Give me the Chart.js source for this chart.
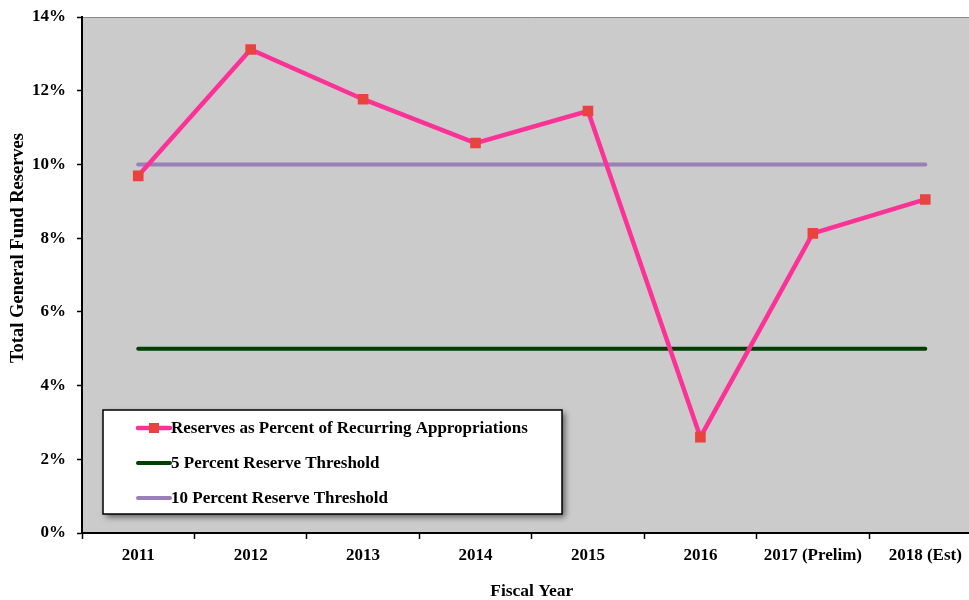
<!DOCTYPE html>
<html>
<head>
<meta charset="utf-8">
<script src="https://cdn.jsdelivr.net/npm/chart.js@4/dist/chart.umd.min.js"></script>
<style>
  html, body { margin: 0; padding: 0; background: #fff; overflow: hidden; }
  #wrap { width: 989px; height: 600px; }
</style>
</head>
<body>
<div id="wrap"><canvas id="chart" width="989" height="600"></canvas></div>
<script>
// data
const fiscalYears = ["2011", "2012", "2013", "2014", "2015", "2016", "2017 (Prelim)", "2018 (Est)"];
const reservesPct = [9.69, 13.12, 11.77, 10.58, 11.45, 2.60, 8.13, 9.05];
const fivePctThreshold = [5, 5, 5, 5, 5, 5, 5, 5];
const tenPctThreshold = [10, 10, 10, 10, 10, 10, 10, 10];
const yTickValues = [0, 2, 4, 6, 8, 10, 12, 14];

const serif = "'Liberation Serif', 'Times New Roman', serif";

// gray plot background + top border
const plotBackground = {
  id: "plotBackground",
  beforeDraw(chart) {
    const { ctx, chartArea: a } = chart;
    ctx.save();
    ctx.fillStyle = "#cbcbcb";
    ctx.fillRect(a.left, a.top, a.right - a.left, a.bottom - a.top);
    ctx.strokeStyle = "#8a8a8a";
    ctx.lineWidth = 1;
    ctx.beginPath();
    ctx.moveTo(a.left, a.top + 0.5);
    ctx.lineTo(a.right, a.top + 0.5);
    ctx.stroke();
    ctx.restore();
  },
};

// y axis title sits a bit above the middle in the reference
const yTitle = {
  id: "yTitle",
  afterDraw(chart) {
    const { ctx } = chart;
    ctx.save();
    ctx.translate(18, 248);
    ctx.rotate(-Math.PI / 2);
    ctx.font = "bold 18.5px " + serif;
    ctx.fillStyle = "#000";
    ctx.textAlign = "center";
    ctx.textBaseline = "middle";
    ctx.fillText("Total General Fund Reserves", 0, 0);
    ctx.restore();
  },
};

// boxed legend inside the plot, bottom left
const boxLegend = {
  id: "boxLegend",
  afterDraw(chart) {
    const { ctx, chartArea: a } = chart;
    const x = a.left + 21, y = a.bottom - 123, w = 459, h = 104;
    ctx.save();
    ctx.shadowColor = "rgba(0,0,0,0.55)";
    ctx.shadowBlur = 6;
    ctx.shadowOffsetX = 3;
    ctx.shadowOffsetY = 3;
    ctx.fillStyle = "#fff";
    ctx.fillRect(x, y, w, h);
    ctx.shadowColor = "transparent";
    ctx.strokeStyle = "#000";
    ctx.lineWidth = 1.5;
    ctx.strokeRect(x, y, w, h);

    chart.data.datasets.forEach((ds, i) => {
      const rowY = y + 18 + i * 35;
      const x0 = x + 35, x1 = x + 67;
      ctx.strokeStyle = ds.borderColor;
      ctx.lineWidth = ds.borderWidth;
      ctx.lineCap = "round";
      ctx.beginPath();
      ctx.moveTo(x0, rowY);
      ctx.lineTo(x1, rowY);
      ctx.stroke();
      if (ds.pointRadius > 0) {
        ctx.fillStyle = ds.pointBackgroundColor;
        ctx.fillRect((x0 + x1) / 2 - 5, rowY - 5, 10, 10);
      }
      ctx.fillStyle = "#000";
      ctx.font = "bold 17px " + serif;
      ctx.textAlign = "left";
      ctx.textBaseline = "middle";
      ctx.fillText(ds.label, x1 + 1, rowY + 1);
    });
    ctx.restore();
  },
};

new Chart(document.getElementById("chart"), {
  type: "line",
  data: {
    labels: fiscalYears,
    datasets: [
      {
        label: "Reserves as Percent of Recurring Appropriations",
        data: reservesPct,
        borderColor: "#fc3296",
        borderWidth: 4.5,
        pointStyle: "rect",
        pointRadius: 7.5,
        pointBorderWidth: 0,
        pointBackgroundColor: "#e8433f",
        tension: 0,
      },
      {
        label: "5 Percent Reserve Threshold",
        data: fivePctThreshold,
        borderColor: "#003f00",
        borderWidth: 4,
        borderCapStyle: "round",
        pointRadius: 0,
      },
      {
        label: "10 Percent Reserve Threshold",
        data: tenPctThreshold,
        borderColor: "#9a80b6",
        borderWidth: 4,
        borderCapStyle: "round",
        pointRadius: 0,
      },
    ],
  },
  options: {
    responsive: false,
    animation: false,
    layout: { padding: { top: 17, left: 0, right: 0, bottom: 0 } },
    plugins: {
      legend: { display: false },
      tooltip: { enabled: false },
    },
    scales: {
      x: {
        offset: true,
        afterFit(scale) {
          scale.height = 67;
          scale.paddingLeft = 0;
          scale.paddingRight = 0;
        },
        grid: {
          offset: true,
          drawOnChartArea: false,
          tickLength: 6,
          tickColor: "#000",
          tickWidth: 1.5,
        },
        border: { color: "#000", width: 2 },
        ticks: {
          color: "#000",
          padding: 6,
          maxRotation: 0,
          autoSkip: false,
          font: { family: serif, size: 17, weight: "bold" },
        },
        title: {
          display: true,
          text: "Fiscal Year",
          color: "#000",
          padding: { top: 0, bottom: 0 },
          font: { family: serif, size: 17.5, weight: "bold", lineHeight: 1 },
        },
      },
      y: {
        min: 0,
        max: 14,
        afterFit(scale) {
          scale.width = 82;
          scale.paddingTop = 0;
          scale.paddingBottom = 0;
        },
        afterBuildTicks(scale) {
          scale.ticks = yTickValues.map((v) => ({ value: v }));
        },
        grid: {
          drawOnChartArea: false,
          tickLength: 5,
          tickColor: "#000",
          tickWidth: 1.5,
        },
        border: { color: "#000", width: 2 },
        ticks: {
          color: "#000",
          padding: 11,
          callback: (v) => v + "%",
          font: { family: serif, size: 17, weight: "bold" },
        },
      },
    },
  },
  plugins: [plotBackground, yTitle, boxLegend],
});
</script>
</body>
</html>
